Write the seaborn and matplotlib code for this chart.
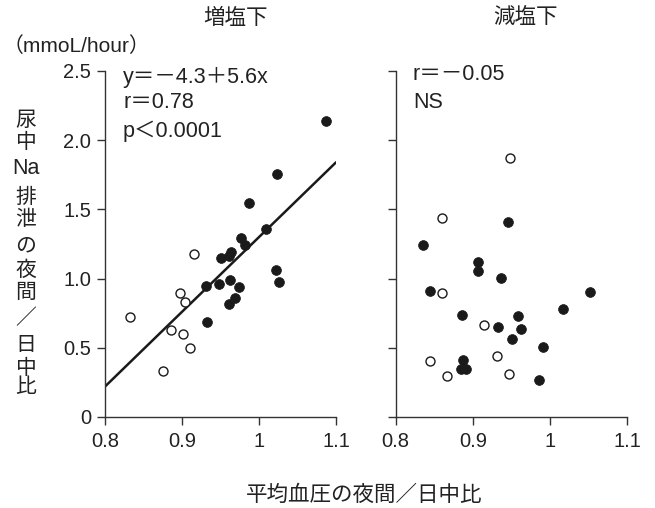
import matplotlib
matplotlib.use("Agg")
import matplotlib.pyplot as plt
import seaborn as sns
import pandas as pd

sns.set_style("ticks")
plt.rcParams['font.family'] = ['Liberation Sans', 'Noto Sans CJK JP', 'DejaVu Sans']

# ---- data ----
high_filled_x = [0.950, 0.961, 0.963, 0.982, 0.977, 1.009, 0.987, 1.024, 1.087,
                 0.931, 0.948, 0.962, 0.974, 0.961, 0.969, 0.932, 1.022, 1.026]
high_filled_y = [1.15, 1.16, 1.19, 1.24, 1.29, 1.355, 1.545, 1.755, 2.14,
                 0.95, 0.96, 0.99, 0.94, 0.82, 0.86, 0.69, 1.06, 0.975]
high_open_x = [0.832, 0.916, 0.897, 0.904, 0.886, 0.901, 0.911, 0.875]
high_open_y = [0.726, 1.18, 0.896, 0.829, 0.63, 0.598, 0.502, 0.329]

low_filled_x = [0.835, 0.906, 0.906, 0.936, 0.844, 1.052, 1.017, 0.886, 0.958,
                0.933, 0.962, 0.951, 0.991, 0.887, 0.885, 0.891, 0.986, 0.946]
low_filled_y = [1.24, 1.12, 1.053, 1.002, 0.908, 0.906, 0.781, 0.735, 0.733,
                0.649, 0.634, 0.562, 0.507, 0.413, 0.348, 0.348, 0.267, 1.408]
low_open_x = [0.948, 0.860, 0.860, 0.914, 0.844, 0.931, 0.866, 0.947]
low_open_y = [1.870, 1.440, 0.896, 0.668, 0.406, 0.438, 0.296, 0.308]

fit_x = [0.8, 1.1]
fit_y = [0.22, 1.84]

x_ticks = [0.8, 0.9, 1.0, 1.1]
x_ticklabels = ["0.8", "0.9", "1", "1.1"]
y_ticks = [0, 0.5, 1.0, 1.5, 2.0, 2.5]
y_ticklabels = ["0", "0.5", "1.0", "1.5", "2.0", "2.5"]

titles = ["増塩下", "減塩下"]
ylabel_chars = ["尿", "中", "Na", "排", "泄", "の", "夜", "間", "／", "日", "中", "比"]
xlabel = "平均血圧の夜間／日中比"
unit = "（mmoL/hour）"
left_notes = ["y＝－4.3＋5.6x", "r＝0.78", "p＜0.0001"]
right_notes = ["r＝－0.05", "NS"]

# ---- figure ----
W, H = 655, 508
fig = plt.figure(figsize=(W / 100, H / 100), dpi=100)

def fx(px):
    return px / W

def fy(py):
    return 1 - py / H

ax1 = fig.add_axes([fx(105), fy(417), (336 - 105) / W, (417 - 71) / H])
ax2 = fig.add_axes([fx(395.7), fy(417), (627.3 - 395.7) / W, (417 - 71) / H])

dark = "#1a1a1a"
for ax, fxs, fys, oxs, oys in [(ax1, high_filled_x, high_filled_y, high_open_x, high_open_y),
                               (ax2, low_filled_x, low_filled_y, low_open_x, low_open_y)]:
    sns.scatterplot(x=fxs, y=fys, ax=ax, s=50, color=dark, edgecolor=dark,
                    linewidth=0.5, zorder=3)
    sns.scatterplot(x=oxs, y=oys, ax=ax, s=42, facecolor="white", edgecolor=dark,
                    linewidth=1.0, zorder=3)
    ax.set_xlim(0.8, 1.1)
    ax.set_ylim(0, 2.5)
    ax.set_xticks(x_ticks)
    ax.set_xticklabels(x_ticklabels)
    ax.set_yticks(y_ticks)
    ax.set_xlabel("")
    ax.set_ylabel("")
    for side in ["top", "right"]:
        ax.spines[side].set_visible(False)
    for side in ["left", "bottom"]:
        ax.spines[side].set_color("#333333")
        ax.spines[side].set_linewidth(1.0)
    ax.tick_params(axis="both", direction="out", length=6, width=1.0,
                   color="#333333", labelsize=14.5, labelcolor="#222222")
    ax.tick_params(axis="x", pad=5)
    ax.tick_params(axis="y", pad=4)
    ax.patch.set_alpha(0)

ax1.set_yticklabels(y_ticklabels)
ax2.set_yticklabels([])

sns.lineplot(x=fit_x, y=fit_y, ax=ax1, color=dark, linewidth=1.8, zorder=2)

# texts
fig.text(fx(235.5), fy(18), titles[0], ha="center", va="center", fontsize=15.5, color="#222222")
fig.text(fx(525.8), fy(18), titles[1], ha="center", va="center", fontsize=15.5, color="#222222")
fig.text(fx(363.7), fy(495), xlabel, ha="center", va="center", fontsize=15.5, color="#222222")
fig.text(fx(3), fy(46), unit, ha="left", va="center", fontsize=15, color="#222222")

ycenters = [121, 142, 168, 197, 219, 246, 270, 292, 318, 346, 368, 388]
for ch, yc in zip(ylabel_chars, ycenters):
    fig.text(fx(26), fy(yc), ch, ha="center", va="center",
             fontsize=15 if ch != "Na" else 15.5, color="#222222")

for t, yc in zip(left_notes, [77, 103, 131]):
    fig.text(fx(123), fy(yc), t, ha="left", va="center", fontsize=15.5, color="#222222")
for t, yc in zip(right_notes, [75, 103]):
    fig.text(fx(413), fy(yc), t, ha="left", va="center", fontsize=15.5, color="#222222")

fig.savefig("out.png", dpi=100)
